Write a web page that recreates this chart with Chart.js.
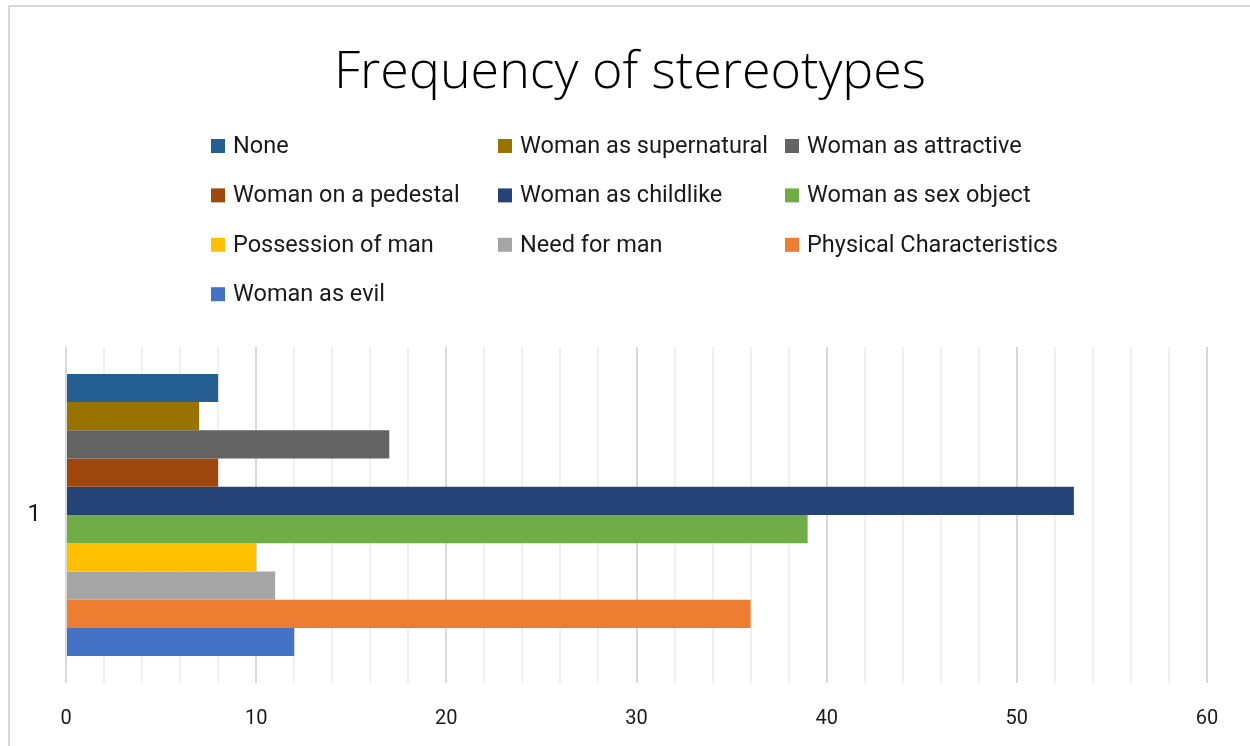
<!DOCTYPE html>
<html>
<head>
<meta charset="utf-8">
<script src="https://cdn.jsdelivr.net/npm/chart.js@4.4.1/dist/chart.umd.min.js"></script>
<style>
  html, body { margin: 0; padding: 0; background: #fff; overflow: hidden; }
  #frame { position: absolute; left: 8px; top: 5px; width: 1400px; height: 900px;
           border-top: 2px solid #d9d9d9; border-left: 2px solid #d9d9d9; }
  #wrap { position: absolute; left: 0; top: 0; width: 1250px; height: 746px; }
</style>
</head>
<body>
<div id="frame"></div>
<div id="wrap"><canvas id="stereoChart"></canvas></div>
<script>
const chartTitle = 'Frequency of stereotypes';
const categories = ['1'];
const seriesNames = [
    'None', 'Woman as supernatural', 'Woman as attractive',
    'Woman on a pedestal', 'Woman as childlike', 'Woman as sex object',
    'Possession of man', 'Need for man', 'Physical Characteristics',
    'Woman as evil'
];
const seriesValues = [8, 7, 17, 8, 53, 39, 10, 11, 36, 12];
const seriesColors = [
    '#255E91', '#997300', '#636363', '#9E480E', '#264478',
    '#70AD47', '#FFC000', '#A5A5A5', '#ED7D31', '#4472C4'
];
const xTicks = [0, 10, 20, 30, 40, 50, 60];

const textFont = "'Roboto', 'Liberation Sans', sans-serif";
const textColor = '#1a1a1a';

// title plus a 3-column legend grid, both drawn above the plot area
const header = {
    id: 'header',
    afterDraw(chart) {
        const ctx = chart.ctx;
        ctx.save();
        ctx.fillStyle = '#000';
        ctx.font = "300 52px 'Open Sans', sans-serif";
        ctx.textAlign = 'center';
        ctx.textBaseline = 'alphabetic';
        ctx.fillText(chartTitle, 630, 88);

        const left = 211, colW = 287, top = 146, rowH = 49.4, box = 14;
        ctx.textAlign = 'left';
        ctx.textBaseline = 'middle';
        ctx.font = '23.5px ' + textFont;
        chart.data.datasets.forEach((ds, i) => {
            const x = left + (i % 3) * colW;
            const y = top + Math.floor(i / 3) * rowH;
            ctx.fillStyle = ds.backgroundColor;
            ctx.fillRect(x, y - box / 2, box, box);
            ctx.fillStyle = textColor;
            ctx.fillText(ds.label, x + 22, y + 1);
        });
        ctx.restore();
    }
};

const datasets = seriesNames.map((name, i) => ({
    label: name,
    data: [seriesValues[i]],
    backgroundColor: seriesColors[i],
    borderWidth: 0,
    barPercentage: 1,
    categoryPercentage: 0.84
}));

new Chart(document.getElementById('stereoChart'), {
    type: 'bar',
    data: { labels: categories, datasets: datasets },
    plugins: [header],
    options: {
        indexAxis: 'y',
        responsive: true,
        maintainAspectRatio: false,
        animation: false,
        layout: { padding: { top: 347, left: 0, right: 43, bottom: 14 } },
        scales: {
            x: {
                min: 0,
                max: 60,
                border: { display: false },
                grid: {
                    drawTicks: false,
                    lineWidth: 2,
                    color: c => (c.tick && c.tick.value % 10 === 0) ? '#d9d9d9' : '#f0f0f0'
                },
                ticks: {
                    stepSize: 2,
                    autoSkip: false,
                    maxRotation: 0,
                    padding: 24,
                    color: textColor,
                    font: { family: textFont, size: 20 },
                    callback: v => xTicks.includes(v) ? v : ''
                },
                afterFit: scale => { scale.height = 49; }
            },
            y: {
                border: { display: false },
                grid: { display: false },
                ticks: {
                    padding: 17,
                    color: textColor,
                    font: { family: textFont, size: 24 }
                },
                afterFit: scale => { scale.width = 66; }
            }
        },
        plugins: {
            legend: { display: false },
            tooltip: { enabled: false },
            title: { display: false }
        }
    }
});
</script>
</body>
</html>
